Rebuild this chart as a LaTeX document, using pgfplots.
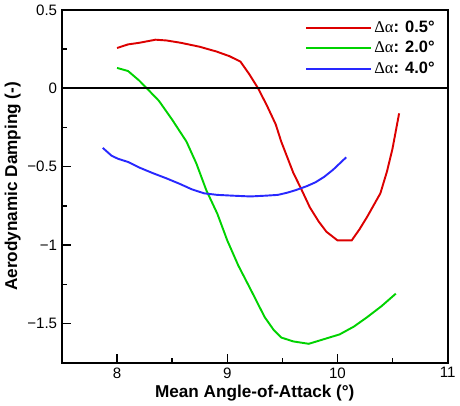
\documentclass[border=0pt]{standalone}
\usepackage{pgfplots}
\pgfplotsset{compat=1.18}
\usepackage{fontspec}
\setmainfont{Liberation Sans}
\newfontfamily\grk{Liberation Serif}
\definecolor{cred}{RGB}{220,0,0}
\definecolor{cgreen}{RGB}{0,210,0}
\definecolor{cblue}{RGB}{40,40,255}

\begin{document}
\begin{tikzpicture}
\begin{axis}[
    scale only axis,
    width=281pt, height=257pt,
    xmin=7.5, xmax=11,
    ymin=-1.75, ymax=0.5,
    xtick={8,9,10,11},
    ytick={-1.5,-1,-0.5,0,0.5},
    yticklabels={−1.5,−1,−0.5,0,0.5},
    minor xtick={8.5,9.5,10.5},
    minor ytick={-1.25,-0.75,-0.25,0.25},
    tick align=inside,
    major tick length=6.5pt,
    minor tick length=3.5pt,
    tick style={black, line width=1pt},
    axis line style={line width=1.4pt},
    xtick pos=bottom, ytick pos=left,
    ticklabel style={font=\fontsize{11}{13}\selectfont},
    /pgf/number format/assume math mode=true,
    xlabel={\bfseries Mean Angle-of-Attack (°)},
    ylabel={\bfseries Aerodynamic Damping (-)},
    label style={font=\fontsize{12.5}{14}\selectfont},
    xlabel style={yshift=2pt},
    ylabel style={yshift=-2pt},
    legend style={draw=none, fill=none, at={(0.985,0.985)}, anchor=north east,
        font=\fontsize{12}{14}\selectfont, row sep=1pt},
    legend cell align=left,
    legend image code/.code={\draw[#1, line width=1.4pt] (0cm,0cm) -- (1.65cm,0cm);},
]
\addplot[cred, line width=1.4pt] coordinates {
(8.0,0.257) (8.1,0.28) (8.2,0.29) (8.35,0.31) (8.45,0.305) (8.58,0.29)
(8.75,0.265) (8.9,0.235) (9.02,0.205) (9.12,0.17) (9.2,0.09) (9.28,0.0)
(9.36,-0.11) (9.44,-0.23) (9.49,-0.34) (9.6,-0.54) (9.67,-0.64)
(9.75,-0.76) (9.83,-0.85) (9.9,-0.915) (10.0,-0.97) (10.13,-0.97)
(10.2,-0.90) (10.27,-0.82) (10.33,-0.745) (10.39,-0.67) (10.45,-0.53)
(10.5,-0.385) (10.56,-0.16)
};
\addlegendentry{{\grk Δα}\bfseries: 0.5°}
\addplot[cgreen, line width=1.4pt] coordinates {
(8.0,0.13) (8.1,0.11) (8.2,0.05) (8.27,0.0) (8.38,-0.08) (8.5,-0.2)
(8.63,-0.34) (8.72,-0.48) (8.81,-0.65) (8.91,-0.80) (9.0,-0.97)
(9.1,-1.13) (9.21,-1.28) (9.34,-1.46) (9.42,-1.54) (9.49,-1.59)
(9.6,-1.615) (9.74,-1.63) (9.88,-1.60) (10.02,-1.57) (10.15,-1.52)
(10.27,-1.46) (10.4,-1.39) (10.53,-1.31)
};
\addlegendentry{{\grk Δα}\bfseries: 2.0°}
\addplot[cblue, line width=1.4pt] coordinates {
(7.87,-0.38) (7.95,-0.43) (8.01,-0.45) (8.1,-0.47) (8.2,-0.505)
(8.32,-0.54) (8.45,-0.575) (8.57,-0.61) (8.68,-0.645) (8.79,-0.67)
(8.91,-0.68) (9.05,-0.685) (9.21,-0.69) (9.35,-0.685) (9.46,-0.68)
(9.55,-0.665) (9.62,-0.65) (9.72,-0.625) (9.8,-0.60) (9.88,-0.565)
(9.96,-0.52) (10.02,-0.48) (10.08,-0.44)
};
\addlegendentry{{\grk Δα}\bfseries: 4.0°}
\draw[black, line width=1.4pt] (axis cs:7.5,0) -- (axis cs:11,0);
\end{axis}
\end{tikzpicture}
\end{document}
